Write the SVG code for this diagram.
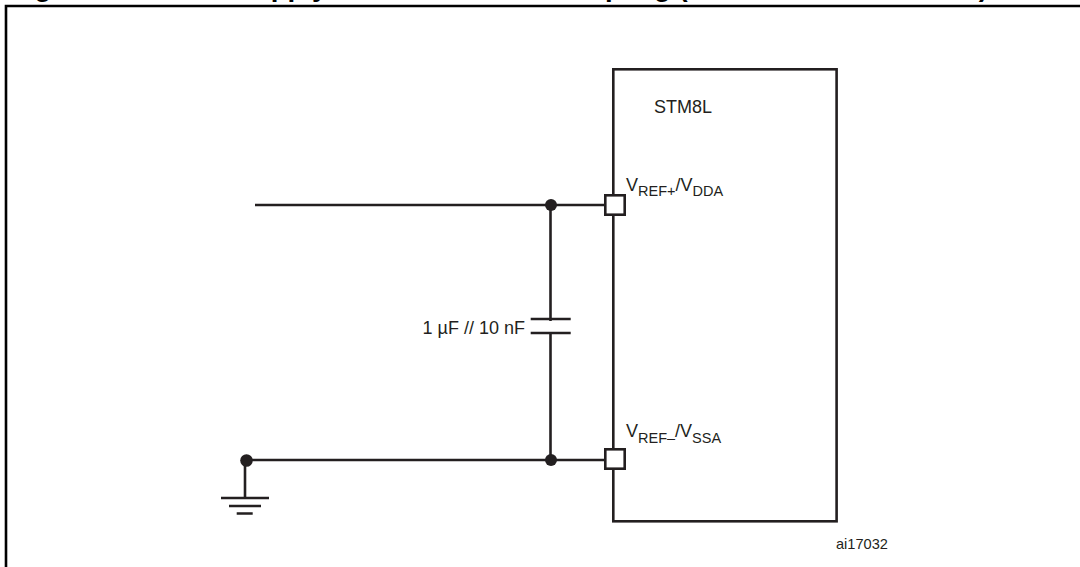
<svg xmlns="http://www.w3.org/2000/svg" width="1080" height="567" viewBox="0 0 1080 567">
<style>
  .ln { stroke:#231f20; stroke-width:2.6; fill:none; }
  .pin { stroke:#231f20; stroke-width:2.6; fill:#ffffff; }
  .dot { fill:#231f20; }
  .t { font-family:"Liberation Sans", Arial, sans-serif; fill:#231f20; }
  .title { font-family:"Liberation Sans", Arial, sans-serif; font-weight:bold; font-size:27.6px; fill:#000; }
</style>
<rect width="1080" height="567" fill="#ffffff"/>
<text class="title" x="10" y="-4">Figure 20. Power supply and reference decoupling (V<tspan font-size="19px" dy="4">REF+</tspan><tspan dy="-4" font-size="24.5px"> connected to V</tspan><tspan font-size="19px" dy="4">DDA</tspan><tspan dy="-4">)</tspan></text>
<path d="M6 600 V6 H1090" stroke="#000" stroke-width="2.6" fill="none"/>
<g id="stm8l">
  <rect class="ln" x="613.3" y="69.3" width="223.3" height="452"/>
  <text class="t" x="654" y="113" font-size="18">STM8L</text>
</g>
<g id="connectors">
  <path class="ln" d="M255 205 H604"/>
  <path class="ln" d="M550.5 205 V460"/>
  <path class="ln" d="M246 460 H604"/>
  <path class="ln" d="M245 460 V498"/>
</g>
<g id="vref_plus_pin">
  <rect class="pin" x="605.3" y="195.3" width="19.4" height="19.4"/>
  <text class="t" x="626" y="191" font-size="18">V<tspan font-size="14.5" dy="5">REF+</tspan><tspan dy="-5">/V</tspan><tspan font-size="14.5" dy="5">DDA</tspan></text>
</g>
<g id="vref_minus_pin">
  <rect class="pin" x="605.3" y="449.3" width="19.4" height="19.4"/>
  <text class="t" x="626" y="437" font-size="18">V<tspan font-size="14.5" dy="6">REF–</tspan><tspan dy="-6">/V</tspan><tspan font-size="14.5" dy="6">SSA</tspan></text>
</g>
<g id="capacitor">
  <rect x="540" y="321" width="22" height="11" fill="#ffffff"/>
  <path class="ln" d="M530.7 319 H570.7 M530.7 333 H570.7"/>
  <text class="t" x="525" y="334" font-size="18" text-anchor="end">1 µF // 10 nF</text>
</g>
<g id="junctions">
  <circle class="dot" cx="551" cy="205" r="6"/>
  <circle class="dot" cx="551" cy="460" r="6"/>
  <circle class="dot" cx="246.5" cy="460.5" r="6.3"/>
</g>
<g id="ground">
  <path class="ln" d="M221 498 H269 M229 506 H261 M236.7 513.5 H252.7"/>
</g>
<text class="t" x="836" y="549" font-size="14.6">ai17032</text>
</svg>
